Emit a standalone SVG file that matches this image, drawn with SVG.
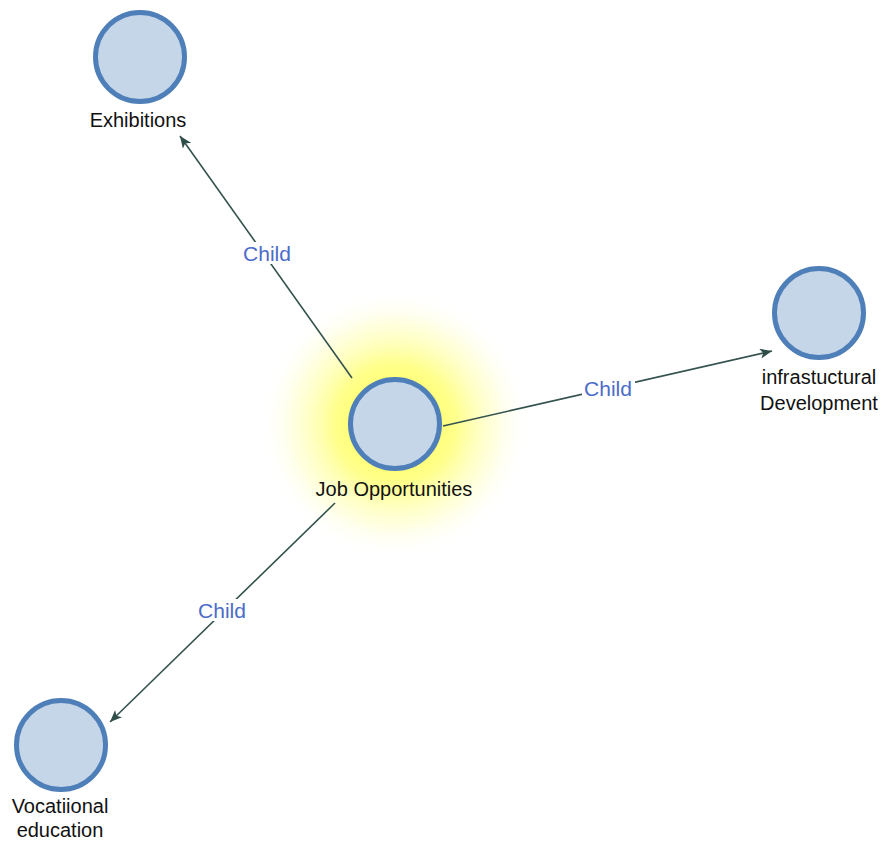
<svg xmlns="http://www.w3.org/2000/svg" width="882" height="842" viewBox="0 0 882 842">
<style>
.node circle{fill:#c6d6e9;stroke:#4f7fb8;stroke-width:5}
.lbl{font-family:"Liberation Sans",Arial,sans-serif;font-size:20px;fill:#111;text-anchor:middle}
.edge line{stroke:#34524e;stroke-width:1.6}
.elbl{font-family:"Liberation Sans",Arial,sans-serif;font-size:21px;fill:#4b6cc8;text-anchor:middle}
.bg{fill:#ffffff}
</style>
<defs>
<radialGradient id="glow" cx="0.5" cy="0.5" r="0.5">
<stop offset="0" stop-color="#ffff40" stop-opacity="1"/>
<stop offset="0.45" stop-color="#ffff70" stop-opacity="0.8"/>
<stop offset="0.75" stop-color="#ffffb0" stop-opacity="0.4"/>
<stop offset="1" stop-color="#ffffff" stop-opacity="0"/>
</radialGradient>
<marker id="arr" viewBox="0 0 12 10" refX="12" refY="5" markerWidth="12" markerHeight="10" markerUnits="userSpaceOnUse" orient="auto">
<path d="M0,0 L12,5 L0,10 L3,5 Z" fill="#2f4d49"/>
</marker>
</defs>
<rect width="882" height="842" fill="#ffffff"/>
<circle cx="395" cy="424" r="135" fill="url(#glow)"/>
<g id="connectors" class="edge">
<line x1="352" y1="378" x2="180" y2="136" marker-end="url(#arr)"/>
<line x1="443" y1="426" x2="772" y2="351" marker-end="url(#arr)"/>
<line x1="335" y1="503" x2="110" y2="722" marker-end="url(#arr)"/>
<rect class="bg" x="240" y="242" width="55" height="22"/>
<text class="elbl" x="267" y="261">Child</text>
<rect class="bg" x="582" y="377" width="53" height="22"/>
<text class="elbl" x="608" y="396">Child</text>
<rect class="bg" x="195" y="599" width="54" height="22"/>
<text class="elbl" x="222" y="618">Child</text>
</g>
<g id="job" class="node">
<circle cx="395" cy="424" r="44.5"/>
<text class="lbl" x="394" y="496">Job Opportunities</text>
</g>
<g id="exhibitions" class="node">
<circle cx="140" cy="57" r="44.5"/>
<text class="lbl" x="138" y="127">Exhibitions</text>
</g>
<g id="infrastructural" class="node">
<circle cx="819" cy="313" r="44.5"/>
<text class="lbl" x="819" y="384">infrastuctural</text>
<text class="lbl" x="819" y="410">Development</text>
</g>
<g id="vocational" class="node">
<circle cx="61" cy="745" r="44.5"/>
<text class="lbl" x="60" y="813">Vocatiional</text>
<text class="lbl" x="60" y="837">education</text>
</g>
</svg>
